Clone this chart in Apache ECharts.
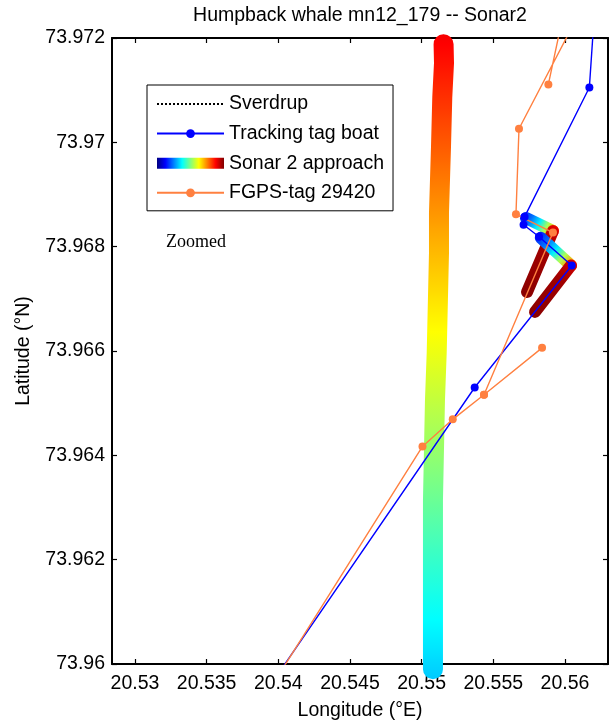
<!DOCTYPE html>
<html><head><meta charset="utf-8">
<script src="https://cdn.jsdelivr.net/npm/echarts@6/dist/echarts.min.js"></script>
<style>html,body{margin:0;padding:0;background:#fff}#c{width:611px;height:728px}</style>
</head><body><div id="c"></div>
<script>
// ---- tick labels ----
const xTicks = [20.53, 20.535, 20.54, 20.545, 20.55, 20.555, 20.56];
const yTicks = [73.96, 73.962, 73.964, 73.966, 73.968, 73.97, 73.972];

// ---- Sverdrup (not inside the zoomed window) ----
const sverdrupLon = [];
const sverdrupLat = [];

// ---- long coloured track (Sonar 2 approach, coloured by time) ----
const bandLon = [20.55153, 20.55156, 20.55144, 20.55135, 20.55121, 20.55121, 20.55105, 20.55093, 20.55079, 20.55079, 20.55079];
const bandLat = [73.97188, 73.97152, 73.97087, 73.96991, 73.96865, 73.96788, 73.96596, 73.96506, 73.96314, 73.96123, 73.95990];

// ---- zoomed approach segments ----
const appA1Lon = [20.55728, 20.55916];
const appA1Lat = [73.96855, 73.96830];
const appA2Lon = [20.55916, 20.55735];
const appA2Lat = [73.96830, 73.96713];
const appB1Lon = [20.55831, 20.56042];
const appB1Lat = [73.96817, 73.96764];
const appB2Lon = [20.56042, 20.55791];
const appB2Lat = [73.96764, 73.96675];

// ---- Tracking tag boat ----
const boatLon = [20.56216, 20.56170, 20.55718, 20.55711, 20.55819, 20.56047, 20.55370, 20.53874];
const boatLat = [73.97292, 73.97105, 73.96857, 73.96842, 73.96819, 73.96764, 73.96530, 73.95931];

// ---- FGPS-tag 29420 ----
const fgpsLon = [20.55884, 20.56024, 20.56184, 20.55679, 20.55658, 20.55916, 20.55435, 20.55840, 20.55435, 20.55217, 20.55006, 20.53893];
const fgpsLat = [73.97111, 73.97292, 73.97292, 73.97026, 73.96862, 73.96827, 73.96516, 73.96606, 73.96516, 73.96469, 73.96417, 73.95931];

const FONT = '"Liberation Sans", Arial, sans-serif';
const FS = 19.5;
const jet = ['#000080','#0000ff','#0080ff','#00ffff','#80ff80','#ffff00','#ff8000','#ff0000','#800000'];
const G = echarts.graphic.LinearGradient;
const pts = (a, b) => a.map((v, i) => [v, b[i]]);

const risingGrad = (x, y, x2, y2) => new G(x, y, x2, y2, [
  {offset: 0, color: '#0000f0'}, {offset: 0.28, color: '#0070ff'}, {offset: 0.48, color: '#00f0ff'},
  {offset: 0.66, color: '#b0ff50'}, {offset: 0.82, color: '#ffa000'}, {offset: 1, color: '#ff0000'}]);
const fallingGrad = (x, y, x2, y2) => new G(x, y, x2, y2, [
  {offset: 0, color: '#f00000'}, {offset: 0.12, color: '#c80000'}, {offset: 0.35, color: '#a00000'}, {offset: 1, color: '#880000'}]);

const thick = (lon, lat, color) => ({
  type: 'line', name: 'Sonar 2 approach', data: pts(lon, lat), showSymbol: false, clip: false,
  lineStyle: {width: 12, color: color, cap: 'round', join: 'round'}, silent: true, emphasis: {disabled: true}
});

const axisCommon = {
  type: 'value', splitLine: {show: false},
  axisLine: {onZero: false, lineStyle: {color: '#000', width: 2}},
};

const chart = echarts.init(document.getElementById('c'));
chart.setOption({
  animation: false,
  backgroundColor: '#fff',
  title: {
    text: 'Humpback whale mn12_179 -- Sonar2', left: 360, top: 6, padding: 0, textAlign: 'center',
    textStyle: {fontFamily: FONT, fontSize: FS, fontWeight: 'normal', color: '#000'}
  },
  grid: {left: 112, right: 3, top: 38, bottom: 64},
  xAxis: [
    Object.assign({}, axisCommon, {
      min: 20.5284, max: 20.563, position: 'bottom',
      axisTick: {inside: true, length: 5, customValues: xTicks, lineStyle: {color: '#000', width: 1.2}},
      axisLabel: {customValues: xTicks, margin: 10, fontFamily: FONT, fontSize: FS, color: '#000', formatter: v => String(v)},
      name: 'Longitude (°E)', nameLocation: 'middle', nameGap: 37,
      nameTextStyle: {fontFamily: FONT, fontSize: FS, color: '#000'}
    }),
    Object.assign({}, axisCommon, {
      min: 20.5284, max: 20.563, position: 'top',
      axisTick: {inside: true, length: 5, customValues: xTicks, lineStyle: {color: '#000', width: 1.2}},
      axisLabel: {show: false}
    })
  ],
  yAxis: [
    Object.assign({}, axisCommon, {
      min: 73.96, max: 73.972, interval: 0.002, position: 'left',
      axisTick: {inside: true, length: 5, customValues: yTicks, lineStyle: {color: '#000', width: 1.2}},
      axisLabel: {customValues: yTicks, margin: 7, fontFamily: FONT, fontSize: FS, color: '#000', formatter: v => String(v)},
      name: 'Latitude (°N)', nameLocation: 'middle', nameGap: 78,
      nameTextStyle: {fontFamily: FONT, fontSize: FS, color: '#000'}
    }),
    Object.assign({}, axisCommon, {
      min: 73.96, max: 73.972, interval: 0.002, position: 'right',
      axisTick: {inside: true, length: 5, customValues: yTicks, lineStyle: {color: '#000', width: 1.2}},
      axisLabel: {show: false}
    })
  ],
  visualMap: {
    type: 'continuous', show: false, seriesIndex: 0, dimension: 1,
    min: 73.95258, max: 73.97464, inRange: {color: jet}
  },
  legend: {
    orient: 'vertical', left: 147, top: 85, padding: [9, 9, 8, 9],
    itemWidth: 67, itemHeight: 11, itemGap: 9.6, selectedMode: false,
    borderColor: '#000', borderWidth: 1, backgroundColor: '#fff', borderRadius: 0,
    textStyle: {fontFamily: FONT, fontSize: FS, color: '#000'},
    data: [
      {name: 'Sverdrup', itemStyle: {opacity: 0}},
      {name: 'Tracking tag boat'},
      {name: 'Sonar 2 approach', icon: 'rect', itemStyle: {color: new G(0, 0, 1, 0, jet.map((c, i) => ({offset: i / 8, color: c}))), borderWidth: 0}},
      {name: 'FGPS-tag 29420'}
    ]
  },
  graphic: [
    {type: 'text', left: 166, top: 233, style: {text: 'Zoomed', font: '18px "Liberation Serif", serif', fill: '#000'}}
  ],
  series: [
    {
      type: 'line', name: 'Sonar 2 approach', data: pts(bandLon, bandLat), showSymbol: false, clip: false,
      lineStyle: {width: 20, cap: 'round', join: 'round'}, silent: true, emphasis: {disabled: true}
    },
    thick(appA1Lon, appA1Lat, risingGrad(0, 0, 1, 1)),
    thick(appA2Lon, appA2Lat, fallingGrad(1, 0, 0, 1)),
    thick(appB1Lon, appB1Lat, risingGrad(0, 0, 1, 1)),
    thick(appB2Lon, appB2Lat, fallingGrad(1, 0, 0, 1)),
    {
      type: 'line', name: 'Tracking tag boat', data: pts(boatLon, boatLat), clip: true,
      symbol: 'circle', symbolSize: 8, showSymbol: true, color: '#0000ff',
      itemStyle: {color: '#0000ff', borderWidth: 0},
      lineStyle: {width: 1.4, color: '#0000ff'}, silent: true, emphasis: {disabled: true}
    },
    {
      type: 'line', name: 'FGPS-tag 29420', data: pts(fgpsLon, fgpsLat), clip: true,
      symbol: 'circle', symbolSize: 8, showSymbol: true, color: '#ff8040',
      itemStyle: {color: '#ff8040', borderWidth: 0},
      lineStyle: {width: 1.4, color: '#ff8040'}, silent: true, emphasis: {disabled: true}
    },
    {
      type: 'line', name: 'Sverdrup', data: pts(sverdrupLon, sverdrupLat), symbol: 'none', color: '#000',
      lineStyle: {width: 1, color: '#000', type: 'dotted'}, silent: true
    }
  ]
});
</script>
</body></html>
